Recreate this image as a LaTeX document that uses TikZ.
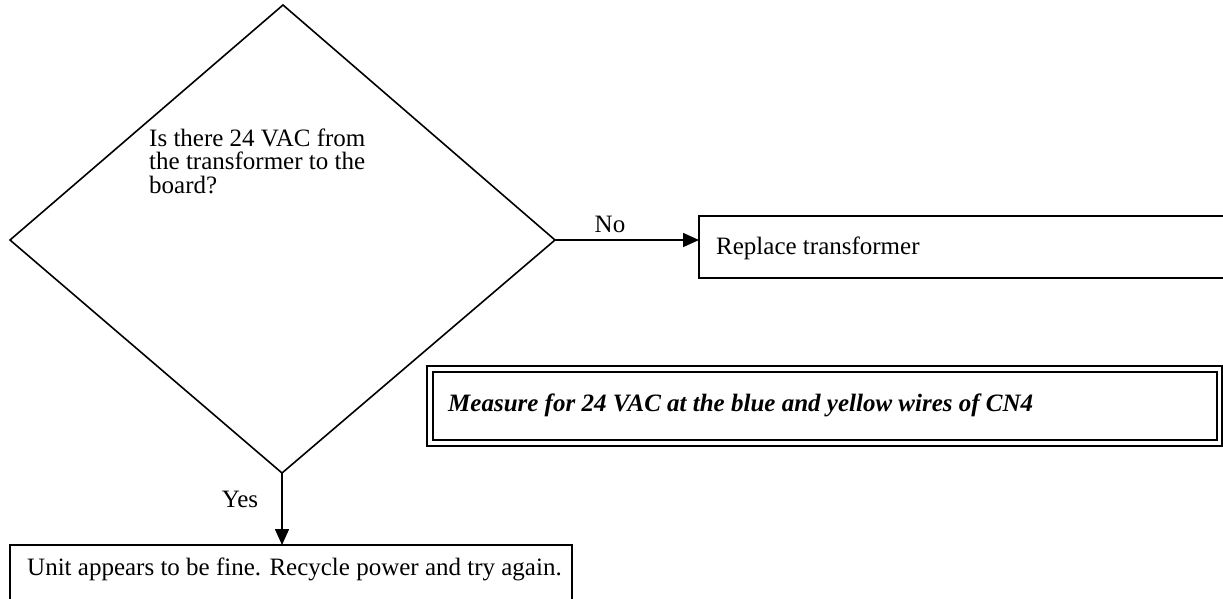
\documentclass[tikz,border=0pt]{standalone}
\usepackage{fontspec}
\setmainfont{Liberation Serif}
\usetikzlibrary{arrows.meta}
\begin{document}
\begin{tikzpicture}[x=1pt,y=-1pt,
  ln/.style={line width=1.6pt, line join=miter},
  arr/.style={ln, -{Triangle[length=16pt,width=14pt]}},
  txt/.style={font=\fontsize{25}{23.5}\selectfont, inner sep=0pt},
  boxshape/.style={draw, line width=1.5pt, fill=white}]
\useasboundingbox (0,0) rectangle (1223,598);
% diamond
\coordinate (dtop) at (283,5);
\coordinate (dright) at (555,240);
\coordinate (dbottom) at (282,473);
\coordinate (dleft) at (10,240);
\draw[ln] (dtop) -- (dright) -- (dbottom) -- (dleft) -- cycle;
\node[txt, anchor=base west] (question) at (149,146) {Is there 24 VAC from};
\node[txt, anchor=base west] (question2) at (149,169.5) {the transformer to the};
\node[txt, anchor=base west] (question3) at (149,193) {board?};
% replace box
\draw[boxshape] (1230,216) -- (699,216) -- (699,278) -- (1230,278);
\coordinate (replaceW) at (699,240);
\node[txt, anchor=base west] (replace) at (716,254) {Replace transformer};
% No arrow
\draw[arr] (dright) -- (replaceW);
\node[txt, anchor=base] (no) at (610,232) {No};
% double box
\draw[line width=1.8pt, fill=white] (427,366) rectangle (1222,446);
\draw[line width=1.3pt] (433,372) rectangle (1217,440);
\node[txt, anchor=base west, font=\fontsize{25}{23.5}\selectfont\bfseries\itshape] (measure) at (448,411)
  {Measure for 24 VAC at the blue and yellow wires of CN4};
% bottom box
\draw[boxshape] (10,605) -- (10,545) -- (572,545) -- (572,605);
\coordinate (unitN) at (282,545);
\node[txt, anchor=base west] (unit) at (27,575) {Unit appears to be fine. Recycle power and try again.};
% Yes arrow
\draw[arr] (dbottom) -- (unitN);
\node[txt, anchor=base] (yes) at (240,507) {Yes};
\end{tikzpicture}
\end{document}
